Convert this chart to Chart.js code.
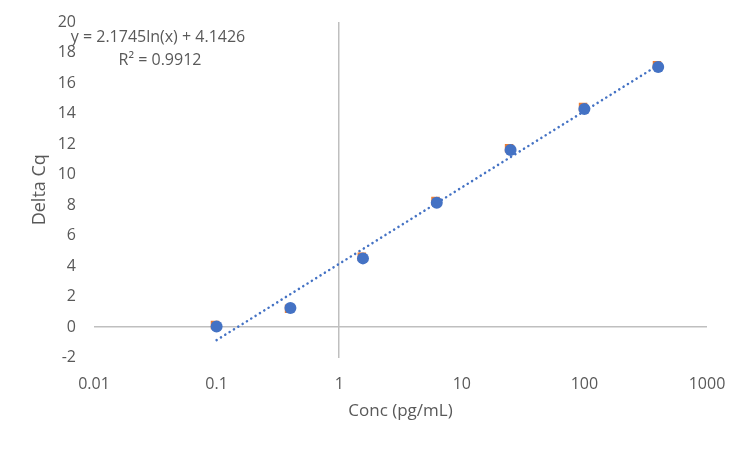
<!DOCTYPE html>
<html>
<head>
<meta charset="utf-8">
<script src="https://cdn.jsdelivr.net/npm/chart.js@4/dist/chart.umd.min.js"></script>
<style>
  html, body { margin: 0; padding: 0; background: #fff; }
  #wrap { width: 750px; height: 450px; position: relative; }
</style>
</head>
<body>
<div id="wrap"><canvas id="chart"></canvas></div>
<script>
// data
const concValues = [0.1, 0.4, 1.5625, 6.25, 25, 100, 400];
const deltaCqBlue = [0.03, 1.25, 4.5, 8.15, 11.6, 14.3, 17.05];
const concOrange = [0.097, 0.39, 1.53, 6.1, 24.3, 97.5, 391];
const deltaCqOrange = [0.13, 1.2, 4.6, 8.27, 11.72, 14.42, 17.17];
const trendX = [0.1, 400];
const trendY = [-0.86, 17.17];
const xTicks = [0.01, 0.1, 1, 10, 100, 1000];
const yTicks = [-2, 0, 2, 4, 6, 8, 10, 12, 14, 16, 18, 20];
const equationText = 'y = 2.1745ln(x) + 4.1426';
const rSquaredText = 'R² = 0.9912';

const FONT = "'Open Sans', 'Liberation Sans', sans-serif";
const GREY = '#595959';

const toPoints = (xs, ys) => xs.map((x, i) => ({ x: x, y: ys[i] }));

// trendline label, top-left of the plot
const equationLabel = {
  id: 'equationLabel',
  afterDraw(chart) {
    const ctx = chart.ctx;
    ctx.save();
    ctx.fillStyle = GREY;
    ctx.font = '16px ' + FONT;
    ctx.textBaseline = 'middle';
    ctx.textAlign = 'center';
    ctx.fillText(equationText, 158, 37);
    ctx.fillText(rSquaredText, 160, 60);
    ctx.restore();
  }
};

new Chart(document.getElementById('chart'), {
  type: 'scatter',
  data: {
    datasets: [
      {
        label: 'Delta Cq',
        data: toPoints(concValues, deltaCqBlue),
        backgroundColor: '#4472C4',
        borderColor: '#4472C4',
        pointStyle: 'circle',
        pointRadius: 6,
        borderWidth: 0
      },
      {
        label: 'Delta Cq 2',
        data: toPoints(concOrange, deltaCqOrange),
        backgroundColor: '#ED7D31',
        borderColor: '#ED7D31',
        pointStyle: 'rect',
        pointRadius: 6,
        borderWidth: 0
      },
      {
        label: 'Log. trend',
        data: toPoints(trendX, trendY),
        showLine: true,
        pointRadius: 0,
        borderColor: '#4472C4',
        borderWidth: 2.5,
        borderDash: [0.1, 5],
        borderCapStyle: 'round',
        fill: false
      }
    ]
  },
  options: {
    responsive: true,
    maintainAspectRatio: false,
    animation: false,
    layout: { padding: { left: 0, right: 43, top: 22, bottom: 0 } },
    plugins: {
      legend: { display: false },
      tooltip: { enabled: false }
    },
    scales: {
      x: {
        type: 'logarithmic',
        min: 0.01,
        max: 1000,
        afterBuildTicks: (scale) => { scale.ticks = xTicks.map(v => ({ value: v })); },
        afterFit: (scale) => { scale.height = 92.5; },
        border: { display: false },
        grid: {
          drawTicks: false,
          color: (c) => (c.tick && c.tick.value === 1 ? '#BFBFBF' : 'rgba(0,0,0,0)'),
          lineWidth: 1.5
        },
        ticks: {
          color: GREY,
          font: { family: FONT, size: 16 },
          padding: 17,
          maxRotation: 0,
          autoSkip: false,
          callback: (v) => String(v)
        },
        title: {
          display: true,
          text: 'Conc (pg/mL)',
          color: GREY,
          font: { family: FONT, size: 17 },
          padding: { top: 0, bottom: 29 }
        }
      },
      y: {
        min: -2,
        max: 20,
        afterBuildTicks: (scale) => { scale.ticks = yTicks.map(v => ({ value: v })); },
        afterFit: (scale) => {
          scale.width = 94;
          scale.paddingTop = 0;
          scale.paddingBottom = 0;
        },
        border: { display: false },
        grid: {
          drawTicks: false,
          color: (c) => (c.tick && c.tick.value === 0 ? '#BFBFBF' : 'rgba(0,0,0,0)'),
          lineWidth: 1.5
        },
        ticks: {
          color: GREY,
          font: { family: FONT, size: 16 },
          padding: 18,
          autoSkip: false
        },
        title: {
          display: true,
          text: 'Delta Cq',
          color: GREY,
          font: { family: FONT, size: 18 },
          padding: { top: 29, bottom: 0 }
        }
      }
    }
  },
  plugins: [equationLabel]
});
</script>
</body>
</html>
